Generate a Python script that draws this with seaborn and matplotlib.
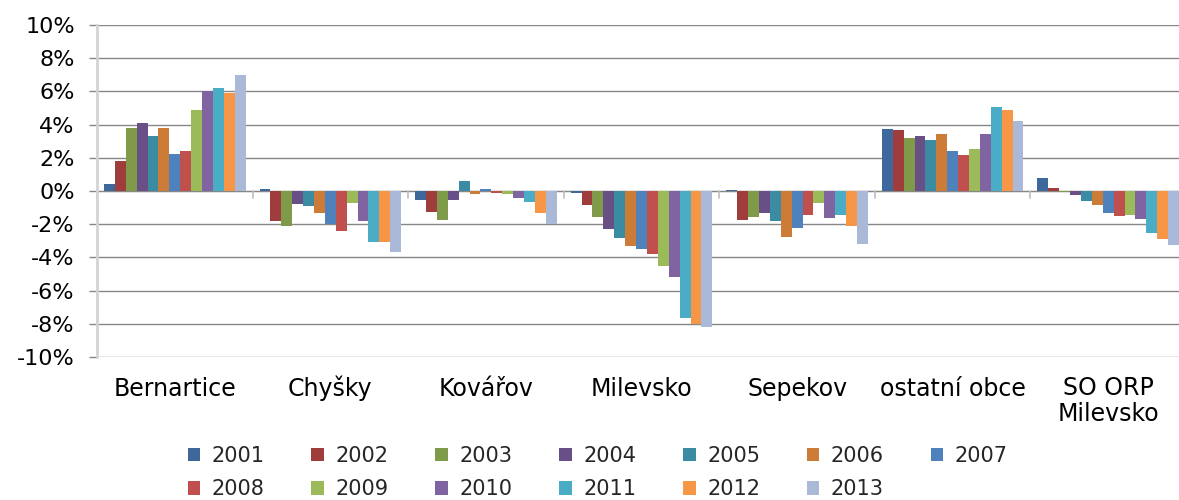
import matplotlib
matplotlib.use("Agg")
import matplotlib.pyplot as plt
import matplotlib.transforms as mtransforms
import seaborn as sns
import pandas as pd
from matplotlib.ticker import FuncFormatter

categories = ["Bernartice", "Chyšky", "Kovářov", "Milevsko", "Sepekov",
              "ostatní obce", "SO ORP\nMilevsko"]
years = ["2001", "2002", "2003", "2004", "2005", "2006", "2007",
         "2008", "2009", "2010", "2011", "2012", "2013"]

bernartice = [0.4, 1.8, 3.8, 4.1, 3.3, 3.8, 2.2, 2.4, 4.85, 6.0, 6.2, 5.9, 7.0]
chysky = [0.1, -1.8, -2.1, -0.8, -0.9, -1.3, -2.0, -2.4, -0.7, -1.8, -3.05, -3.05, -3.65]
kovarov = [-0.57, -1.24, -1.72, -0.57, 0.62, -0.2, 0.14, -0.15, -0.2, -0.45, -0.69, -1.3, -1.97]
milevsko = [-0.12, -0.87, -1.54, -2.27, -2.81, -3.3, -3.48, -3.78, -4.5, -5.17, -7.66, -8.02, -8.2]
sepekov = [0.05, -1.72, -1.54, -1.3, -1.78, -2.75, -2.2, -1.42, -0.75, -1.6, -1.42, -2.08, -3.17]
ostatni = [3.71, 3.65, 3.22, 3.29, 3.05, 3.41, 2.38, 2.14, 2.56, 3.41, 5.05, 4.87, 4.2]
so_orp = [0.8, 0.2, -0.05, -0.27, -0.6, -0.87, -1.3, -1.48, -1.42, -1.66, -2.56, -2.87, -3.23]

series = [bernartice, chysky, kovarov, milevsko, sepekov, ostatni, so_orp]

colors = ["#3E679B", "#9E3D3B", "#7F9A48", "#684F86", "#3B8BA2", "#CD7C37",
          "#4F81BD", "#C0504D", "#9BBB59", "#8064A2", "#4BACC6", "#F79646",
          "#AAB9D8"]

rows = []
for cat, vals in zip(categories, series):
    for y, v in zip(years, vals):
        rows.append({"obec": cat, "rok": y, "val": v})
df = pd.DataFrame(rows)

sns.set_theme(style="white")
plt.rcParams["font.family"] = ["DejaVu Sans"]

fig = plt.figure(figsize=(11.79, 5.0), dpi=100)
ax = fig.add_axes([97 / 1179, 1 - 357 / 500, (1186 - 97) / 1179, (357 - 25) / 500])

sns.barplot(data=df, x="obec", y="val", hue="rok", palette=colors,
            saturation=1, width=0.91, gap=0, ax=ax, legend=True,
            order=categories, hue_order=years, edgecolor="none")

ax.set_ylim(-10, 10)
ax.set_xlim(-0.5, len(categories) - 0.5)
ax.set_yticks(range(-10, 11, 2))
ax.yaxis.set_major_formatter(FuncFormatter(lambda v, p: f"{int(v)}%"))
ax.set_axisbelow(True)
ax.yaxis.grid(True, color="#878787", linewidth=1.0)
ax.xaxis.grid(False)
ax.axhline(0, color="#D9D9D9", linewidth=1.0, zorder=0.5)
for b in range(len(categories) + 1):
    ax.plot([b - 0.5, b - 0.5], [0, -0.45], color="#BFBFBF", linewidth=1.2,
            clip_on=False, zorder=0.6)

for s in ["top", "right", "bottom"]:
    ax.spines[s].set_visible(False)
ax.spines["left"].set_color("#D4D4D4")
ax.spines["left"].set_linewidth(2)

ax.tick_params(axis="y", which="major", length=6, width=1, color="#878787",
               labelsize=16, pad=10, left=True, direction="out")
ax.tick_params(axis="x", length=0, labelbottom=False)
ax.set_xlabel("")
ax.set_ylabel("")
for lab in ax.get_yticklabels():
    lab.set_color("black")

# category labels: first-line baseline aligned at the same height
trans = mtransforms.blended_transform_factory(ax.transData, fig.transFigure)
base_first = 1 - 396 / 500
line_step = 25 / 500
for i, cat in enumerate(categories):
    nlines = cat.count("\n")
    ax.text(i, base_first - nlines * line_step, cat, transform=trans,
            ha="center", va="baseline", fontsize=17, color="black",
            linespacing=1.08, multialignment="center")

handles, labels = ax.get_legend_handles_labels()
ax.get_legend().remove()
order = []
for k in range(7):
    order.append(k)
    if k + 7 < len(years):
        order.append(k + 7)
fig.legend([handles[i] for i in order], [labels[i] for i in order],
           ncol=7, loc="center", bbox_to_anchor=(0.507, 0.055), frameon=False,
           fontsize=15, handlelength=0.6, handleheight=0.6, handletextpad=0.55,
           columnspacing=2.25, labelspacing=0.65, borderaxespad=0)

fig.savefig("out.png", dpi=100)
